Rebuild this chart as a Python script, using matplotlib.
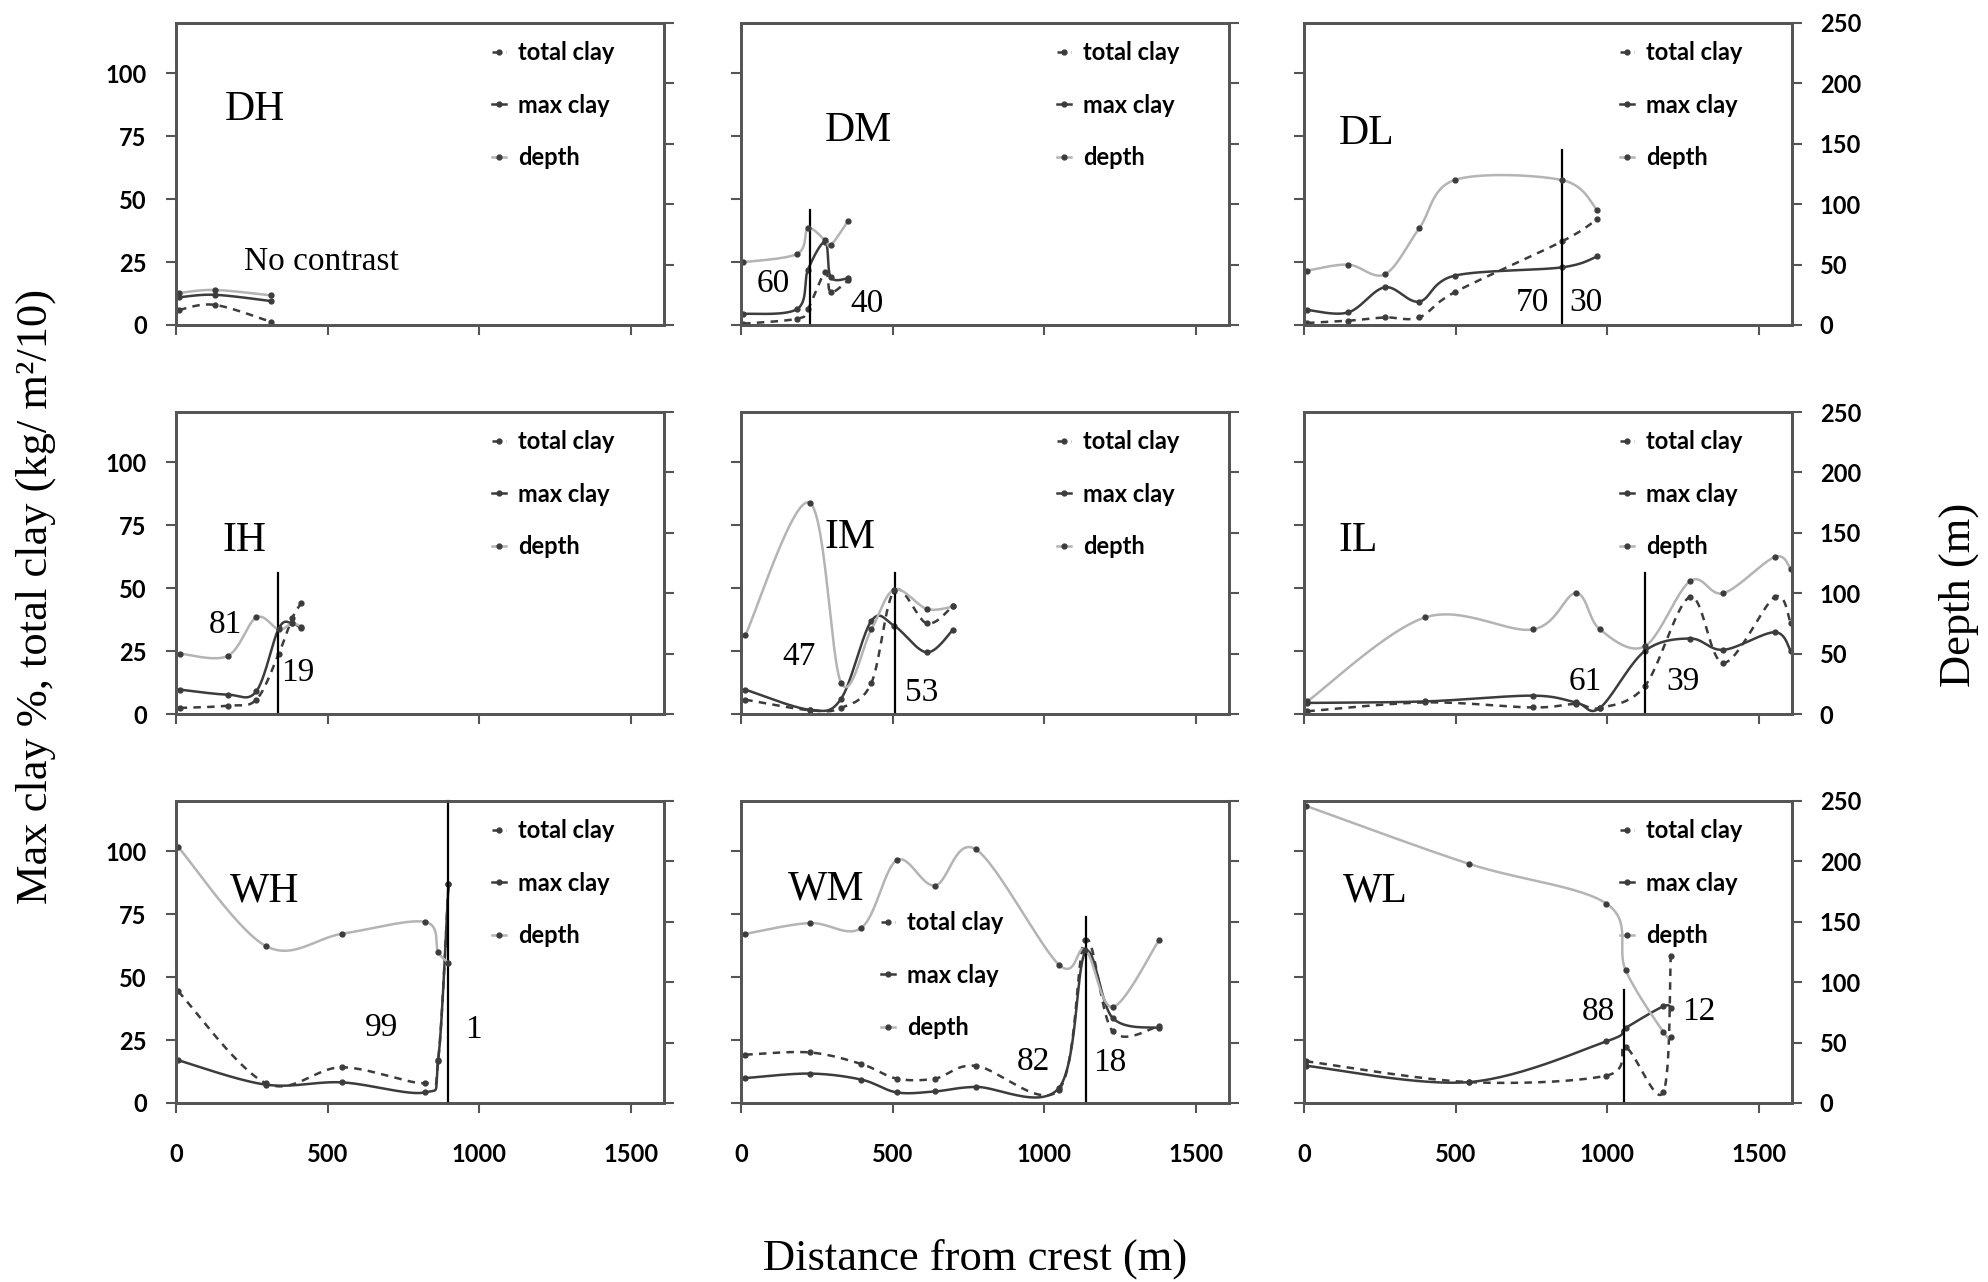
import numpy as np
import matplotlib
matplotlib.use("Agg")
import matplotlib.pyplot as plt

# ---------------- data ----------------
# x: distance from crest (m); max/total: left axis; depth: right axis (m)
DH_x = [10, 128, 315]
DH_depth = [26.5, 29.0, 24.5]
DH_max = [11.0, 12.0, 9.5]
DH_total = [6.0, 8.0, 1.2]

DM_x = [7, 186, 221, 278, 296, 353]
DM_depth = [52, 59, 80, 70, 66, 86]
DM_max = [4.4, 6.4, 22.0, 33.0, 19.0, 18.5]
DM_total = [0.5, 2.5, 6.4, 21.0, 13.0, 17.7]

DL_x = [10, 146, 267, 380, 497, 851, 968]
DL_depth = [45, 50, 42, 80, 120, 120, 95]
DL_max = [6.0, 5.0, 15.0, 9.3, 19.6, 22.9, 27.3]
DL_total = [0.8, 1.7, 3.0, 3.0, 13.0, 33.2, 42.1]

IH_x = [12, 170, 265, 339, 383, 413]
IH_depth = [50, 48, 80, 70, 75, 72]
IH_max = [9.7, 7.7, 9.0, 34.0, 36.0, 34.0]
IH_total = [2.4, 3.3, 5.7, 24.0, 38.0, 44.0]

IM_x = [14, 226, 330, 430, 506, 613, 700]
IM_depth = [65, 175, 26, 70, 103, 87, 89]
IM_max = [9.7, 1.7, 6.0, 37.0, 35.0, 24.5, 33.5]
IM_total = [5.7, 1.5, 2.4, 12.3, 49.0, 36.0, 43.0]

IL_x = [11, 400, 754, 897, 976, 1124, 1274, 1384, 1553, 1606]
IL_depth = [10.5, 80, 70, 100, 70, 56, 110, 100, 130, 120]
IL_max = [4.4, 5.0, 7.3, 4.6, 2.4, 25.0, 30.0, 25.5, 32.5, 25.0]
IL_total = [1.1, 4.6, 2.6, 4.0, 2.4, 11.0, 46.5, 20.3, 46.5, 36.0]

WH_x = [7, 296, 547, 821, 865, 899]
WH_depth = [212, 130, 140, 150, 125, 116]
WH_max = [17.0, 7.3, 8.2, 4.2, 16.6, 87.0]
WH_total = [44.4, 7.9, 14.2, 7.9, 17.2, 87.0]

WM_x = [14, 226, 397, 514, 640, 775, 1049, 1136, 1226, 1379]
WM_depth = [140, 149, 145, 201, 180, 210, 114.5, 127, 79.5, 134.7]
WM_max = [9.9, 11.7, 9.3, 4.2, 4.6, 6.4, 6.0, 59.9, 33.8, 29.8]
WM_total = [19.2, 20.1, 15.5, 9.7, 9.7, 14.8, 5.3, 64.9, 28.5, 30.5]

WL_x = [6, 544, 998, 1061, 1185, 1210]
WL_depth = [246, 198, 165, 110, 59, 55]
WL_max = [14.8, 8.3, 24.5, 29.8, 38.4, 37.7]
WL_total = [16.6, 8.3, 10.9, 22.1, 4.2, 58.3]

panel_names = ["DH", "DM", "DL", "IH", "IM", "IL", "WH", "WM", "WL"]
# contrast split position (x) and height of the marker line (left-axis units)
split_x = [None, 227, 851, 335, 509, 1124, 898, 1139, 1057]
split_top = [None, 45.5, 69.6, 56, 56, 56, 120, 74, 44.8]
# percentage labels on each side of the split
pct_left = [None, "60", "70", "81", "47", "61", "99", "82", "88"]
pct_right = [None, "40", "30", "19", "53", "39", "1", "18", "12"]
pct_left_pos = [None, (105, 16.4), (754, 9.0), (162, 35.5), (190, 22.9),
                (927, 13.0), (678, 29.8), (965, 16.5), (971, 36.4)]
pct_right_pos = [None, (417, 8.4), (930, 9.0), (402, 16.3), (597, 8.3),
                 (1251, 13.0), (981, 29.0), (1215, 16.0), (1303, 36.4)]
name_pos = [(161, 85.7), (277, 77), (113, 76), (154, 69), (277, 70),
            (113, 69), (177, 84), (155, 85), (128, 84)]

left_ticks = [0, 25, 50, 75, 100]
right_ticks = [0, 50, 100, 150, 200, 250]
x_ticks = [0, 500, 1000, 1500]
legend_labels = ["total clay", "max clay", "depth"]

panels = {
    "DH": (DH_x, DH_depth, DH_max, DH_total),
    "DM": (DM_x, DM_depth, DM_max, DM_total),
    "DL": (DL_x, DL_depth, DL_max, DL_total),
    "IH": (IH_x, IH_depth, IH_max, IH_total),
    "IM": (IM_x, IM_depth, IM_max, IM_total),
    "IL": (IL_x, IL_depth, IL_max, IL_total),
    "WH": (WH_x, WH_depth, WH_max, WH_total),
    "WM": (WM_x, WM_depth, WM_max, WM_total),
    "WL": (WL_x, WL_depth, WL_max, WL_total),
}

# ---------------- helpers ----------------
SEG = 30


def smooth(x, y):
    """Excel-style smoothed curve through the given points (Bezier)."""
    P = np.column_stack([np.asarray(x, float), np.asarray(y, float)])
    if len(P) < 3:
        return P[:, 0], P[:, 1]
    ext = np.vstack([P[0], P, P[-1]])
    t = np.linspace(0, 1, SEG)[:, None]
    parts = []
    for i in range(len(P) - 1):
        p0, p1, p2, p3 = ext[i], ext[i + 1], ext[i + 2], ext[i + 3]
        c1 = p1 + (p2 - p0) / 6.0
        c2 = p2 - (p3 - p1) / 6.0
        B = (1 - t) ** 3 * p1 + 3 * (1 - t) ** 2 * t * c1 + 3 * (1 - t) * t ** 2 * c2 + t ** 3 * p2
        parts.append(B if i == 0 else B[1:])
    B = np.vstack(parts)
    return B[:, 0], B[:, 1]


def marker_idx(n):
    return [i * (SEG - 1) for i in range(n)] if n >= 3 else list(range(n))


SERIF = "Liberation Serif"
SANS = ["Lato", "DejaVu Sans"]
SPINE_C = "#555555"
DARK = "#3c3c3c"
LIGHT = "#b4b4b4"

W, H = 1988, 1282
fig = plt.figure(figsize=(W / 100, H / 100), dpi=100)

col_left = [176, 741, 1304]
row_bottom = [325, 714, 1103]
aw, ah = 488, 302

for k, name in enumerate(panel_names):
    r, c = divmod(k, 3)
    ax = fig.add_axes([col_left[c] / W, 1 - row_bottom[r] / H, aw / W, ah / H])
    ax2 = ax.twinx()
    x, depth, mx, tot = panels[name]

    sx, sy = smooth(x, tot)
    h_tot, = ax.plot(sx, sy, color=DARK, lw=1.8, ls=(0, (3, 2.5)), marker="o", ms=3.5,
                     markevery=marker_idx(len(x)))
    sx, sy = smooth(x, mx)
    h_max, = ax.plot(sx, sy, color=DARK, lw=1.8, ls="-", marker="o", ms=3.5,
                     markevery=marker_idx(len(x)))
    sx, sy = smooth(x, depth)
    h_dep, = ax2.plot(sx, sy, color=LIGHT, lw=1.8, ls="-", marker="o", ms=3.5,
                      mfc=DARK, mec=DARK, markevery=marker_idx(len(x)))

    if split_x[k] is not None:
        ax.plot([split_x[k], split_x[k]], [0, split_top[k]], color="black", lw=1.6,
                clip_on=False, zorder=5)
        ax.text(*pct_left_pos[k], pct_left[k], family=SERIF, fontsize=24,
                ha="center", va="center")
        ax.text(*pct_right_pos[k], pct_right[k], family=SERIF, fontsize=24,
                ha="center", va="center")
    else:
        ax.text(225, 25, "No contrast", family=SERIF, fontsize=24, ha="left", va="center")

    ax.text(*name_pos[k], name, family=SERIF, fontsize=30, ha="left", va="center")

    ax.set_xlim(0, 1610)
    ax.set_ylim(0, 120)
    ax2.set_ylim(0, 250)
    ax.set_xticks(x_ticks)
    ax.set_yticks(left_ticks)
    ax2.set_yticks(right_ticks)

    for a in (ax, ax2):
        for sp in a.spines.values():
            sp.set_color(SPINE_C)
            sp.set_linewidth(2.0)
        a.tick_params(direction="out", length=7, width=1.5, color=SPINE_C)

    ax.tick_params(axis="y", pad=14, labelsize=17, labelleft=(c == 0))
    ax.tick_params(axis="x", pad=22, labelsize=17, labelbottom=(r == 2))
    ax2.tick_params(axis="y", pad=13, labelsize=17, labelright=(c == 2))
    for lab in ax.get_xticklabels() + ax.get_yticklabels() + ax2.get_yticklabels():
        lab.set_family(SANS)
        lab.set_fontweight("bold")

    if name == "WM":
        anchor = (0.287, 0.635)
    else:
        anchor = (0.648, 0.94)
    leg = ax2.legend([h_tot, h_max, h_dep], legend_labels, loc="upper left",
                     bbox_to_anchor=anchor, frameon=False, borderpad=0, borderaxespad=0,
                     handlelength=0.6, handletextpad=0.5, labelspacing=1.25,
                     prop={"family": SANS, "weight": "bold", "size": 17})

fig.text(36 / W, 0.535, "Max clay %, total clay (kg/ m\u00b2/10)", family=SERIF,
         fontsize=32, rotation=90, ha="center", va="center")
fig.text(1959 / W, 0.536, "Depth (m)", family=SERIF, fontsize=32, rotation=90,
         ha="center", va="center")
fig.text(975 / W, 0.018, "Distance from crest (m)", family=SERIF, fontsize=32,
         ha="center", va="center")

fig.savefig("out.png", dpi=100)
